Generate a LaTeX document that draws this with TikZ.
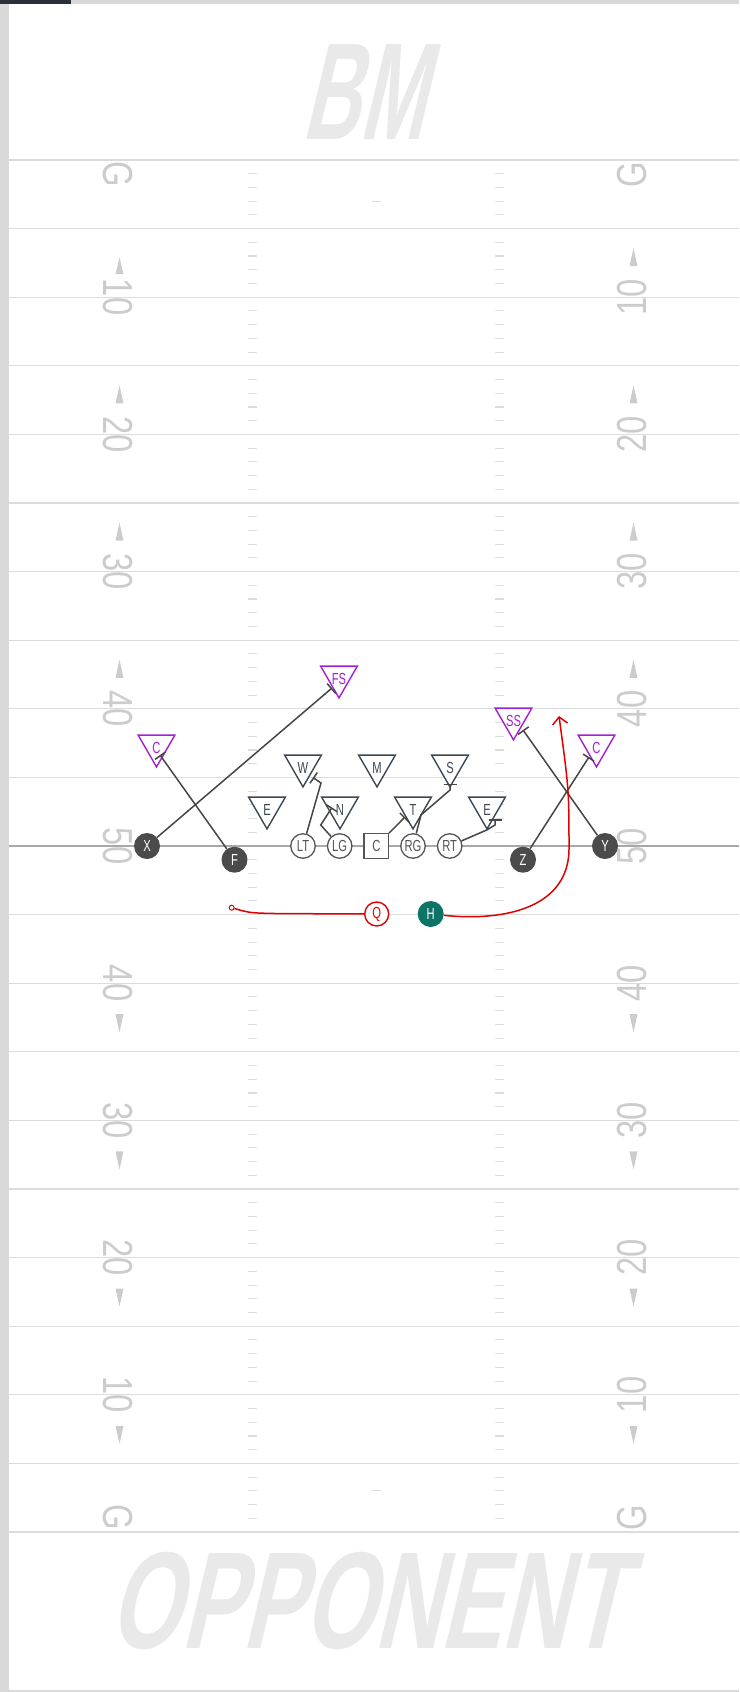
\documentclass[tikz,border=0pt]{standalone}
\usepackage{fontspec}
\usepackage{xcolor}
\usepackage{tikz}
\usetikzlibrary{arrows.meta,shapes.geometric}

\setmainfont{Liberation Sans}
\newfontfamily\lblfont[FakeStretch=0.7]{Liberation Sans}
\newfontfamily\numfont[FakeStretch=0.78]{Liberation Sans}
\newfontfamily\bmfont[FakeStretch=0.57,FakeSlant=0.24]{Liberation Sans}
\newfontfamily\oppfont[FakeStretch=0.664,FakeSlant=0.24]{Liberation Sans}

\definecolor{edgec}{HTML}{D9D9D9}
\definecolor{barc}{HTML}{2A3038}
\definecolor{yardc}{HTML}{DCDCDC}
\definecolor{midc}{HTML}{A8A8A8}
\definecolor{numc}{HTML}{CCCCCC}
\definecolor{markc}{HTML}{E9E9E9}
\definecolor{offc}{HTML}{4B4B4B}
\definecolor{olc}{HTML}{555555}
\definecolor{defc}{HTML}{3B4853}
\definecolor{secc}{HTML}{A61ED2}
\definecolor{asgc}{HTML}{454545}
\definecolor{routec}{HTML}{E00000}
\definecolor{hbc}{HTML}{0B7467}

\newcommand{\plbl}[1]{\makebox[0pt]{#1}}

\begin{document}
\begin{tikzpicture}[x=1pt, y=-1pt,
    yardln/.style={yardc, line width=1.2pt},
    hashmk/.style={yardc, line width=1.1pt},
    ydnum/.style={text=numc, inner sep=0pt, font=\numfont\fontsize{42}{42}\selectfont},
    wmark/.style={text=markc, inner sep=0pt, anchor=base},
    skill/.style={circle, fill=offc, text=white, minimum size=26pt, inner sep=0pt, font=\lblfont\fontsize{16}{16}\selectfont},
    oline/.style={circle, draw=olc, fill=white, line width=1.3pt, minimum size=24.5pt, inner sep=0pt, text=olc, font=\lblfont\fontsize{16}{16}\selectfont},
    ctrbox/.style={rectangle, draw=olc, fill=white, line width=1.3pt, minimum size=24.5pt, inner sep=0pt, text=olc, font=\lblfont\fontsize{16}{16}\selectfont},
    dl/.style={regular polygon, regular polygon sides=3, shape border rotate=180, draw=defc, fill=white, line width=1.4pt, minimum size=33.5pt, inner sep=0pt, text height=15pt, text depth=0pt, text=defc, font=\lblfont\fontsize{16}{16}\selectfont},
    db/.style={dl, draw=secc, text=secc},
    qback/.style={circle, draw=routec, fill=white, line width=1.4pt, minimum size=24pt, inner sep=0pt, text=routec, font=\lblfont\fontsize{16}{16}\selectfont},
    hback/.style={circle, fill=hbc, text=white, minimum size=26pt, inner sep=0pt, font=\lblfont\fontsize{16}{16}\selectfont},
    motdot/.style={circle, draw=routec, fill=white, line width=1pt, minimum size=5pt, inner sep=0pt},
    blk/.style={draw=asgc, line width=1.5pt, -{Bar[width=13pt]}},
    route/.style={draw=routec, line width=1.5pt}
]
    \useasboundingbox (0,0) rectangle (739,1692);

    % Frame
    \fill[edgec] (0,0) rectangle (9,1692);
    \fill[edgec] (0,0) rectangle (739,4);
    \fill[barc] (0,0) rectangle (71,4);
    \fill[edgec] (0,1690) rectangle (739,1692);

    % End zones
    \node[wmark, font=\bmfont\bfseries\fontsize{138}{138}\selectfont] (bm) at (363,139) {BM};
    \node[wmark, font=\oppfont\bfseries\fontsize{138}{138}\selectfont] (opp) at (366,1648) {OPPONENT};

    % Yard lines
    \foreach \k in {0,...,20} {
        \draw[yardln] (9,{160+68.6*\k}) -- (739,{160+68.6*\k});
    }
    \draw[midc, line width=1.3pt] (9,846) -- (739,846);

    % Hash marks
    \foreach \j in {1,...,99} {
        \pgfmathtruncatemacro\r{mod(\j,5)}
        \ifnum\r>0
            \draw[hashmk] (248,{160+13.72*\j}) -- (257,{160+13.72*\j});
            \draw[hashmk] (495,{160+13.72*\j}) -- (504,{160+13.72*\j});
        \fi
    }
    \draw[hashmk] (372,201.2) -- (381,201.2);
    \draw[hashmk] (372,1490.8) -- (381,1490.8);

    % Yard numbers
    \foreach \k/\t in {2/10,4/20,6/30,8/40,10/50,12/40,14/30,16/20,18/10} {
        \node[ydnum, rotate=-90] (numL\k) at (118,{160+68.6*\k}) {\t};
        \node[ydnum, rotate=90] (numR\k) at (632.5,{160+68.6*\k}) {\t};
    }
    \node[ydnum, rotate=-90] (gTL) at (118,174.5) {G};
    \node[ydnum, rotate=90] (gTR) at (632.5,174.5) {G};
    \node[ydnum, rotate=-90] (gBL) at (118,1517.5) {G};
    \node[ydnum, rotate=90] (gBR) at (632.5,1517.5) {G};

    % Direction arrows
    \foreach \k/\a/\b in {2/-40/-23,4/-49/-31,6/-49/-31,8/-49/-31,12/49/31,14/49/31,16/49/31,18/49/31} {
        \pgfmathsetmacro\yl{160+68.6*\k}
        \fill[numc] (115.5,\yl+\b) -- (123.5,\yl+\b) -- (119.5,\yl+\a) -- cycle;
    }
    \foreach \k/\a/\b in {2/-49/-31,4/-49/-31,6/-49/-31,8/-49/-31,12/49/31,14/49/31,16/49/31,18/49/31} {
        \pgfmathsetmacro\yl{160+68.6*\k}
        \fill[numc] (629.5,\yl+\b) -- (637.5,\yl+\b) -- (633.5,\yl+\a) -- cycle;
    }

    % Offense
    \node[skill] (X) at (147,846) {X};
    \node[skill] (F) at (234.5,859.7) {F};
    \node[oline] (LT) at (303,846) {LT};
    \node[oline] (LG) at (339.7,846) {LG};
    \node[ctrbox] (C) at (376.3,846) {C};
    \node[oline] (RG) at (413,846) {RG};
    \node[oline] (RT) at (449.7,846) {RT};
    \node[skill] (Z) at (523,859.7) {Z};
    \node[skill] (Y) at (605,846) {Y};
    \node[qback] (Q) at (376.7,914) {Q};
    \node[hback] (H) at (430.7,914) {H};

    % Defense
    \node[dl] (EL) at (267,807.7) {\plbl{E}};
    \node[dl] (N) at (340,807.7) {\plbl{N}};
    \node[dl] (T) at (413,807.7) {\plbl{T}};
    \node[dl] (ER) at (487,807.7) {\plbl{E}};
    \node[dl] (W) at (303,765.7) {\plbl{W}};
    \node[dl] (M) at (377,765.7) {\plbl{M}};
    \node[dl] (S) at (450,765.7) {\plbl{S}};
    \node[db] (CL) at (156.5,745.7) {\plbl{C}};
    \node[db] (FS) at (339,676.7) {\plbl{FS}};
    \node[db] (SS) at (513.5,718.7) {\plbl{SS}};
    \node[db] (CR) at (596.5,745.7) {\plbl{C}};

    % Blocks
    \coordinate (ltW) at (321,783);
    \coordinate (blkW) at (313,777.5);
    \coordinate (lgN) at (320.7,825);
    \coordinate (blkN) at (332,807.5);
    \coordinate (blkT) at (405,817);
    \coordinate (rgS1) at (421,815);
    \coordinate (rgS2) at (450,790);
    \coordinate (blkS) at (450,783.5);
    \coordinate (rtE1) at (486.7,830);
    \coordinate (rtE2) at (495,825);
    \coordinate (blkE) at (495,819);
    \coordinate (blkFS) at (332,688);
    \coordinate (blkCL) at (160,755);
    \coordinate (blkSS) at (523,730);
    \coordinate (blkCR) at (589,757);
    \draw[blk] (LT) -- (ltW) -- (blkW);
    \draw[blk] (LG) -- (lgN) -- (blkN);
    \draw[blk] (C) -- (blkT);
    \draw[blk] (RG) -- (rgS1) -- (rgS2) -- (blkS);
    \draw[blk] (RT) -- (rtE1) -- (rtE2) -- (blkE);
    \draw[blk] (X) -- (blkFS);
    \draw[blk] (F) -- (blkCL);
    \draw[blk] (Y) -- (blkSS);
    \draw[blk] (Z) -- (blkCR);

    % Routes
    \node[motdot] (qmot) at (231.7,907.7) {};
    \draw[route] (qmot) .. controls (250,913) .. (280,913.6) -- (Q);
    \coordinate (hend) at (559,716);
    \draw[route, -{Straight Barb[length=7pt,width=15pt]}] (H) .. controls (510,922) and (568,905) .. (569,850) .. controls (569,790) .. (hend);
\end{tikzpicture}
\end{document}
